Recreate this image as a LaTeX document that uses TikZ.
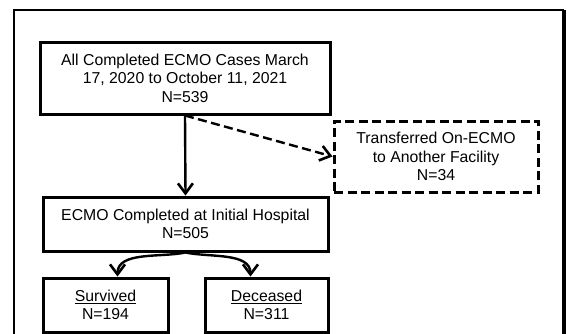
\documentclass[tikz,border=0pt]{standalone}
\usepackage{fontspec}
\setmainfont{Liberation Sans}
\usetikzlibrary{arrows.meta}

\tikzset{
	box/.style = {draw, line width = 3pt, align = center, inner sep = 0pt, fill = white,
		font = \fontsize{15.8}{18.6}\selectfont},
	dashbox/.style = {box, dash pattern = on 9pt off 4.5pt},
	arr/.style = {-{Straight Barb[length = 10pt, width = 15pt, line width = 2.6pt]}, line width = 2.4pt},
}

\begin{document}
\begin{tikzpicture}[x = 1pt, y = -1pt]
	%	frame
	\useasboundingbox (0, 0) rectangle (567, 333);
	\draw[line width = 1.6pt] (14, 345) -- (14, 10) -- (564, 10);
	\draw[line width = 3.4pt] (564, 10) -- (564, 345);
	
	%	boxes
	\node[box, minimum width = 290pt, minimum height = 72pt] (all) at (185, 78)
		{All Completed ECMO Cases March\\17, 2020 to October 11, 2021\\N=539};
	\node[dashbox, minimum width = 204pt, minimum height = 71pt] (transf) at (436, 156.5)
		{Transferred On-ECMO\\to Another Facility\\N=34};
	\node[box, minimum width = 285pt, minimum height = 54pt] (init) at (185.5, 224)
		{ECMO Completed at Initial Hospital\\N=505};
	\node[box, minimum width = 125pt, minimum height = 54pt] (surv) at (105.5, 305)
		{\underline{Survived}\\N=194};
	\node[box, minimum width = 123pt, minimum height = 54pt] (dec) at (266.5, 305)
		{\underline{Deceased}\\N=311};
	
	%	arrows
	\draw[arr] (all.south) -- (init.north);
	\draw[arr, dash pattern = on 9pt off 4.5pt] (all.south) -- (transf.west);
	\draw[arr] (init.south) to[out = 192, in = 90, looseness = 0.9] ([xshift = 12pt]surv.north);
	\draw[arr] (init.south) to[out = -12, in = 90, looseness = 0.9] ([xshift = -16pt]dec.north);
\end{tikzpicture}
\end{document}
